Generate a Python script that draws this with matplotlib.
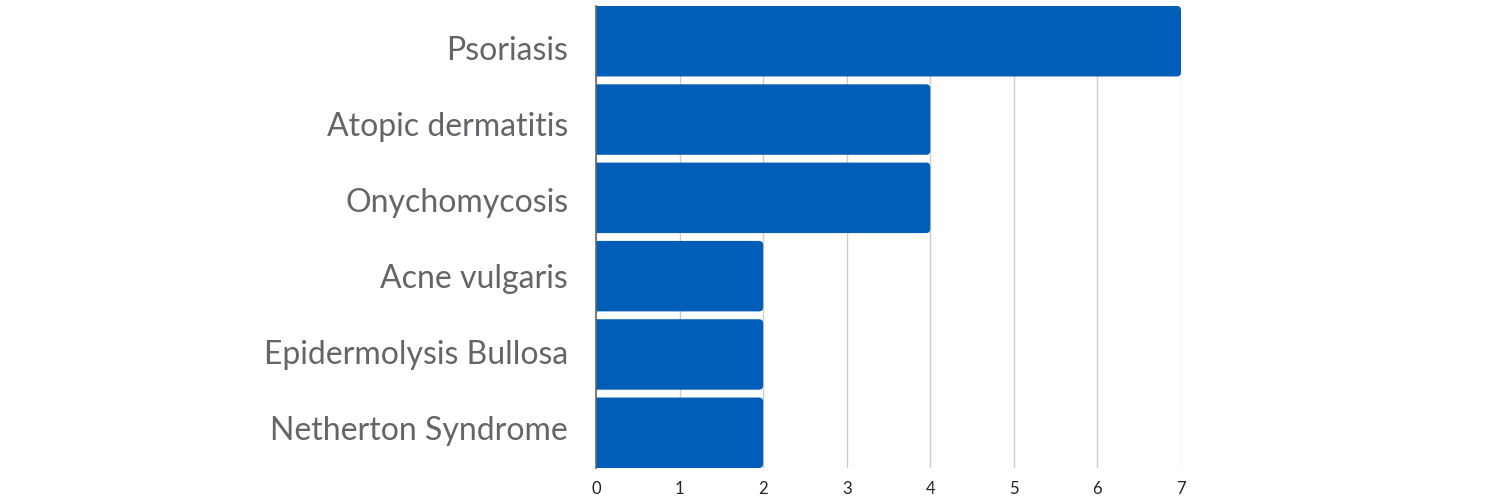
import matplotlib.pyplot as plt
from matplotlib.patches import FancyBboxPatch

categories = ["Psoriasis", "Atopic dermatitis", "Onychomycosis",
              "Acne vulgaris", "Epidermolysis Bullosa", "Netherton Syndrome"]
counts = [7, 4, 4, 2, 2, 2]
xticks = [0, 1, 2, 3, 4, 5, 6, 7]

bar_color = "#005EB8"
label_color = "#646469"

plt.rcParams['font.family'] = ['Lato', 'DejaVu Sans']

fig = plt.figure(figsize=(15, 5), dpi=100)
ax = fig.add_axes([596 / 1500, 1 - 468 / 500, (1181 - 596) / 1500, (468 - 6) / 500])

h = 0.9
pos = list(range(len(categories)))
bars = ax.barh(pos, counts, height=h, color=bar_color)

ax.set_xlim(0, 7)
ax.set_ylim(len(categories) - 1 + h / 2, -h / 2)

# swap plain bars for ones with rounded ends (left end hidden past x=0)
for b in bars:
    x0, y0 = b.get_x(), b.get_y()
    w, hh = b.get_width(), b.get_height()
    b.set_visible(False)
    rb = FancyBboxPatch((x0 - 0.2, y0), w + 0.2, hh,
                        boxstyle="round,pad=0,rounding_size=0.05",
                        mutation_aspect=1.07,
                        facecolor=bar_color, edgecolor="none", zorder=2)
    ax.add_patch(rb)

# labels in the original sit on a slightly tighter spacing than the bars
label_pos = [p + 0.09 - 0.031 * p for p in pos]

ax.set_xticks(xticks)
ax.set_yticks(label_pos)
ax.set_yticklabels(categories, fontsize=23, color=label_color)
ax.tick_params(axis="y", length=0, pad=20)
ax.tick_params(axis="x", length=0, pad=9, labelsize=12, labelcolor="#222222")

ax.grid(axis="x", color="#cccccc", linewidth=1)
ax.set_axisbelow(True)
for s in ["top", "right", "bottom"]:
    ax.spines[s].set_visible(False)
ax.spines["left"].set_color("#666666")
ax.spines["left"].set_linewidth(1.2)
ax.spines["left"].set_zorder(3)

fig.savefig("out.png", dpi=100)
